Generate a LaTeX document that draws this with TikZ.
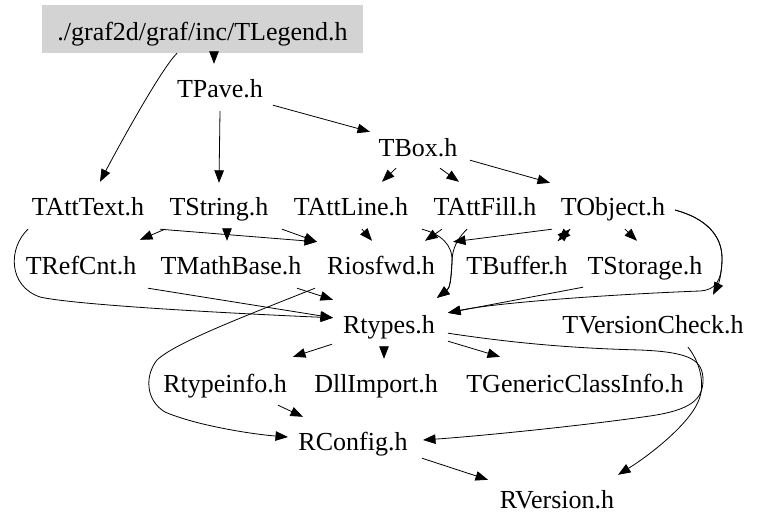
\documentclass[tikz,border=0pt]{standalone}
\usepackage{fontspec}
\setmainfont{Liberation Serif}
\usetikzlibrary{arrows.meta}
\definecolor{boxgray}{RGB}{211,211,211}
\begin{document}
\begin{tikzpicture}[x=1pt,y=-1pt,
  file/.style={font=\fontsize{26pt}{30pt}\selectfont, anchor=base, inner xsep=6pt, inner ysep=12pt, text height=20pt, text depth=2pt},
  root/.style={font=\fontsize{26pt}{30pt}\selectfont, fill=boxgray, draw=none, minimum width=321pt, minimum height=48pt, text height=22pt, text depth=0pt, inner sep=0pt},
  dep/.style={-{Triangle[length=12.5pt,width=9.5pt]}, line width=0.8pt}]
\useasboundingbox (0,0) rectangle (763,528);
\fill[white] (0,0) rectangle (763,528);

\node[root] (TLegend) at (202.5,29) {./graf2d/graf/inc/TLegend.h};
\node[file] (TPave) at (220,97) {TPave.h};
\node[file] (TBox) at (418,156) {TBox.h};
\node[file] (TAttText) at (88,215) {TAttText.h};
\node[file] (TString) at (219,215) {TString.h};
\node[file] (TAttLine) at (351,215) {TAttLine.h};
\node[file] (TAttFill) at (485,215) {TAttFill.h};
\node[file] (TObject) at (613,215) {TObject.h};
\node[file] (TRefCnt) at (81,274) {TRefCnt.h};
\node[file] (TMathBase) at (231,274) {TMathBase.h};
\node[file] (Riosfwd) at (381,274) {Riosfwd.h};
\node[file] (TBuffer) at (517,274) {TBuffer.h};
\node[file] (TStorage) at (645,274) {TStorage.h};
\node[file] (Rtypes) at (389,333) {Rtypes.h};
\node[file] (TVersionCheck) at (653,333) {TVersionCheck.h};
\node[file] (Rtypeinfo) at (225,392) {Rtypeinfo.h};
\node[file] (DllImport) at (376,392) {DllImport.h};
\node[file] (TGenericClassInfo) at (575,392) {TGenericClassInfo.h};
\node[file] (RConfig) at (353,450) {RConfig.h};
\node[file] (RVersion) at (557,508) {RVersion.h};

% TLegend
\draw[dep] ([xshift=11.5pt]TLegend.south) -- ([xshift=-6pt,yshift=1pt]TPave.north);
\draw[dep] ([xshift=-25.5pt]TLegend.south) .. controls (162,68) and (122,140) .. ([xshift=12pt,yshift=1pt]TAttText.north);
% TPave
\draw[dep] (TPave.south) -- (TString.north);
\draw[dep] ([xshift=53pt,yshift=6pt]TPave.south) -- ([xshift=-48pt,yshift=-8pt]TBox.north);
% TBox
\draw[dep] ([xshift=-22pt,yshift=2pt]TBox.south) -- ([xshift=31pt,yshift=1pt]TAttLine.north);
\draw[dep] ([xshift=22pt,yshift=2pt]TBox.south) -- ([xshift=-26pt,yshift=1pt]TAttFill.north);
\draw[dep] ([xshift=52pt,yshift=10pt]TBox.south) -- ([xshift=-63pt]TObject.north);
% TAttText
\draw[dep] ([xshift=-60pt]TAttText.south) .. controls (8,248) and (8,286) .. (40,297) .. controls (70,304) and (200,312) .. ([xshift=-56pt,yshift=-17pt]Rtypes.north);
\draw[dep] ([xshift=72pt]TAttText.south) -- ([xshift=-64pt]Riosfwd.north);
% TString
\draw[dep] ([xshift=-54pt]TString.south) -- ([xshift=59pt,yshift=2pt]TRefCnt.north);
\draw[dep] ([xshift=8pt]TString.south) -- ([xshift=-4pt,yshift=1pt]TMathBase.north);
\draw[dep] ([xshift=63pt]TString.south) -- ([xshift=-64pt]Riosfwd.north);
% TAttLine
\draw[dep] ([xshift=11pt]TAttLine.south) -- ([xshift=-9pt,yshift=1pt]Riosfwd.north);
\draw[dep] ([xshift=71pt]TAttLine.south) .. controls (440,234) and (453,244) .. (452,262) .. controls (451,280) and (450,288) .. ([xshift=48pt,yshift=3pt]Rtypes.north);
% TAttFill
\draw[dep] ([xshift=-43pt]TAttFill.south) -- ([xshift=44pt,yshift=1pt]Riosfwd.north);
\draw[dep] ([xshift=-18pt]TAttFill.south) .. controls (458,238) and (452,248) .. (452,262) .. controls (451,280) and (450,288) .. ([xshift=48pt,yshift=3pt]Rtypes.north);
% TObject
\draw[dep] ([xshift=-61pt]TObject.south) -- ([xshift=72pt]Riosfwd.north);
\draw[dep] ([xshift=-43pt]TObject.south) -- ([xshift=41pt,yshift=1pt]TBuffer.north);
\draw[dep] ([xshift=41pt,yshift=1pt]TBuffer.north) -- ([xshift=-43pt]TObject.south);
\draw[dep] ([xshift=12pt]TObject.south) -- ([xshift=-8pt,yshift=1pt]TStorage.north);
\draw[dep] ([xshift=62pt,yshift=-4pt]TObject.center) .. controls (705,218) and (722,235) .. (722,258) .. controls (722,275) and (718,285) .. ([xshift=60pt,yshift=6pt]TVersionCheck.north);
\draw[dep] ([xshift=62pt,yshift=-4pt]TObject.center) .. controls (705,218) and (722,235) .. (722,258) .. controls (722,282) and (715,290) .. (700,291) .. controls (620,294) and (500,302) .. ([xshift=59pt,yshift=-12pt]Rtypes.north);
% TStorage
\draw[dep] ([xshift=-62pt,yshift=1pt]TStorage.south) -- ([xshift=59pt,yshift=-12pt]Rtypes.north);
% TRefCnt, TMathBase
\draw[dep] ([xshift=67pt]TRefCnt.south) -- ([xshift=-56pt,yshift=-17pt]Rtypes.north);
\draw[dep] ([xshift=66pt]TMathBase.south) -- ([xshift=-56pt,yshift=1pt]Rtypes.north);
% Riosfwd
\draw[dep] ([xshift=-66pt]Riosfwd.south) .. controls (240,318) and (175,343) .. (157,360) .. controls (145,375) and (145,400) .. (165,412) .. controls (195,425) and (250,434) .. ([xshift=-65pt,yshift=4pt]RConfig.center);
% Rtypes
\draw[dep] ([xshift=-57pt,yshift=3pt]Rtypes.south) -- ([xshift=68pt,yshift=3pt]Rtypeinfo.north);
\draw[dep] ([xshift=-5pt]Rtypes.south) -- ([xshift=8pt,yshift=1pt]DllImport.north);
\draw[dep] ([xshift=59pt,yshift=6pt]Rtypes.south) -- ([xshift=-75pt,yshift=3pt]TGenericClassInfo.north);
\draw[dep] ([xshift=59pt,yshift=14pt]Rtypes.south) .. controls (500,341) and (560,348) .. (640,350) .. controls (690,352) and (703,360) .. (703,380) .. controls (703,400) and (690,410) .. (650,416) .. controls (580,426) and (480,436) .. ([xshift=70pt,yshift=1pt]RConfig.center);
% TVersionCheck
\draw[dep] ([xshift=35pt]TVersionCheck.south) .. controls (700,362) and (706,385) .. (698,402) .. controls (688,425) and (650,455) .. ([xshift=61pt,yshift=1pt]RVersion.north);
% Rtypeinfo, RConfig
\draw[dep] ([xshift=53pt,yshift=1pt]Rtypeinfo.south) -- ([xshift=-50pt,yshift=1pt]RConfig.north);
\draw[dep] ([xshift=69pt,yshift=6pt]RConfig.south) -- ([xshift=-69pt,yshift=-4pt]RVersion.north);
\end{tikzpicture}
\end{document}
